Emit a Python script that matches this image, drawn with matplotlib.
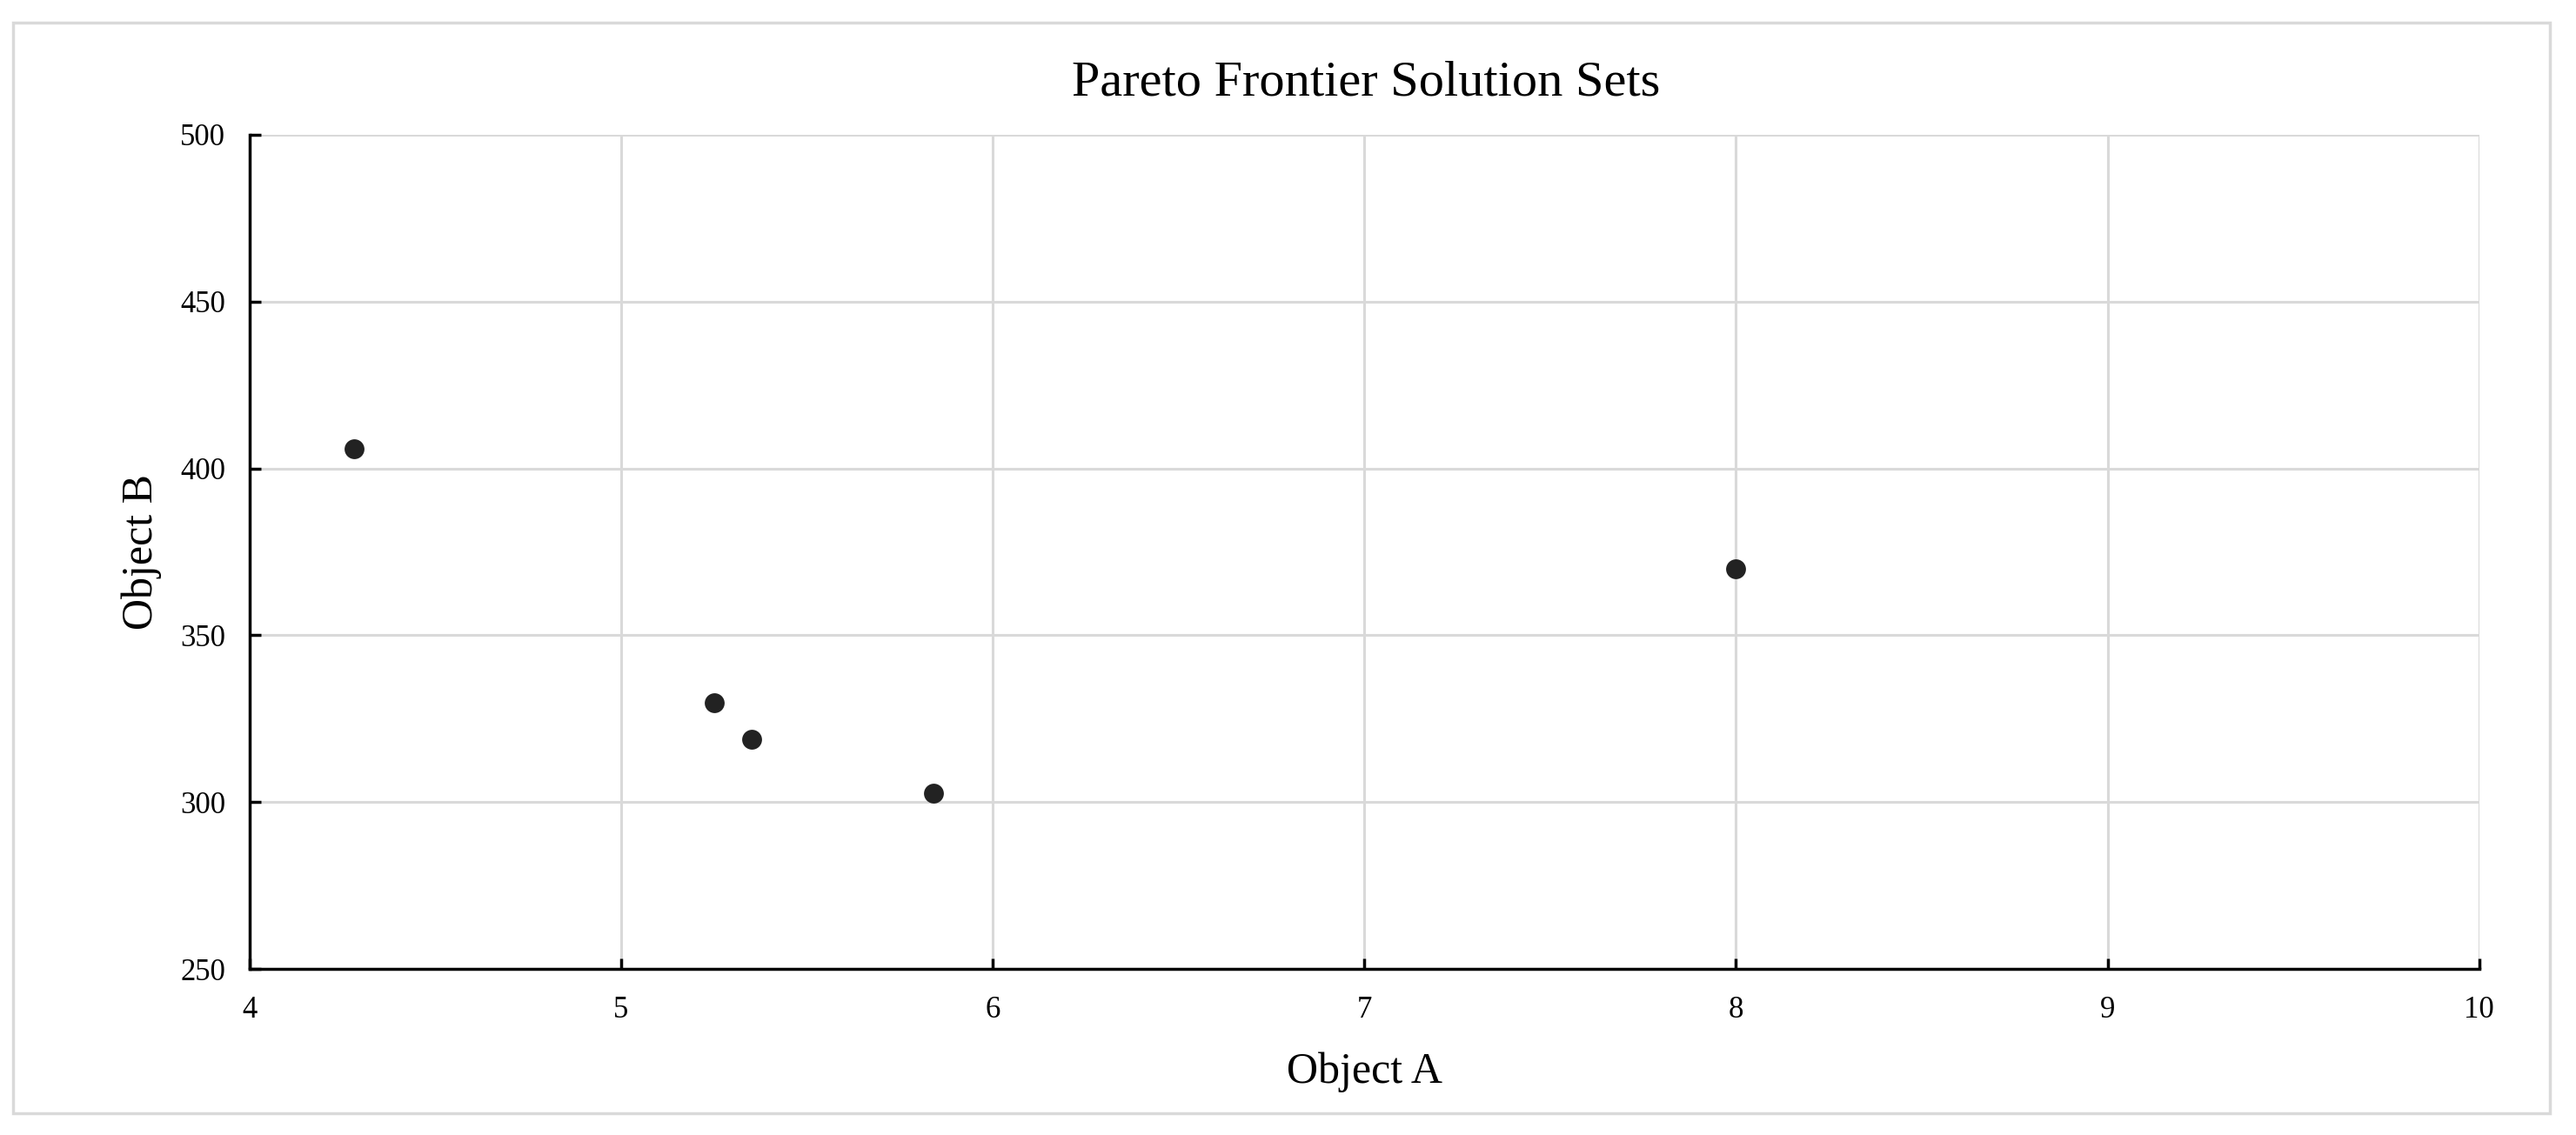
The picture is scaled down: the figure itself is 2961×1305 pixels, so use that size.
import matplotlib

matplotlib.use("Agg")
import matplotlib.pyplot as plt
from matplotlib.patches import Rectangle

# Pareto solutions
object_a = [4.28, 5.25, 5.35, 5.84, 8.00]
object_b = [405.8, 329.8, 318.8, 302.6, 370.0]

x_ticks = [4, 5, 6, 7, 8, 9, 10]
y_ticks = [250, 300, 350, 400, 450, 500]

plt.rcParams["font.family"] = ["Liberation Serif", "DejaVu Serif"]

fig = plt.figure(figsize=(29.61, 13.05), dpi=100)
ax = fig.add_axes([0.0969, 0.1462, 0.8655, 0.7351])

# light grey frame around the whole chart
fig.patches.append(Rectangle((0.0051, 0.0188), 0.9847, 0.9609, transform=fig.transFigure,
                             fill=False, edgecolor="#d9d9d9", linewidth=2.5))

ax.scatter(object_a, object_b, s=270, color="#222222", zorder=3, linewidths=0)

ax.set_xlim(4, 10)
ax.set_ylim(250, 500)
ax.set_xticks(x_ticks)
ax.set_yticks(y_ticks)
ax.grid(True, color="#d9d9d9", linewidth=2.2)
ax.set_axisbelow(True)

for side in ["top", "right"]:
    ax.spines[side].set_visible(False)
for side in ["left", "bottom"]:
    ax.spines[side].set_linewidth(2.5)
    ax.spines[side].set_color("black")

ax.tick_params(direction="in", length=9, width=2.5, labelsize=25, colors="black")
ax.tick_params(axis="y", pad=20)
ax.tick_params(axis="x", pad=22)

ax.set_xlabel("Object A", fontsize=36)
ax.set_ylabel("Object B", fontsize=36)
ax.xaxis.set_label_coords(0.5, -0.124)
ax.yaxis.set_label_coords(-0.0486, 0.5)
ax.xaxis.label.set_va("center")
ax.yaxis.label.set_va("center")

fig.text(0.5304, 0.927, "Pareto Frontier Solution Sets", fontsize=42, ha="center", va="center")

fig.savefig("out.png", dpi=100)
plt.close(fig)
